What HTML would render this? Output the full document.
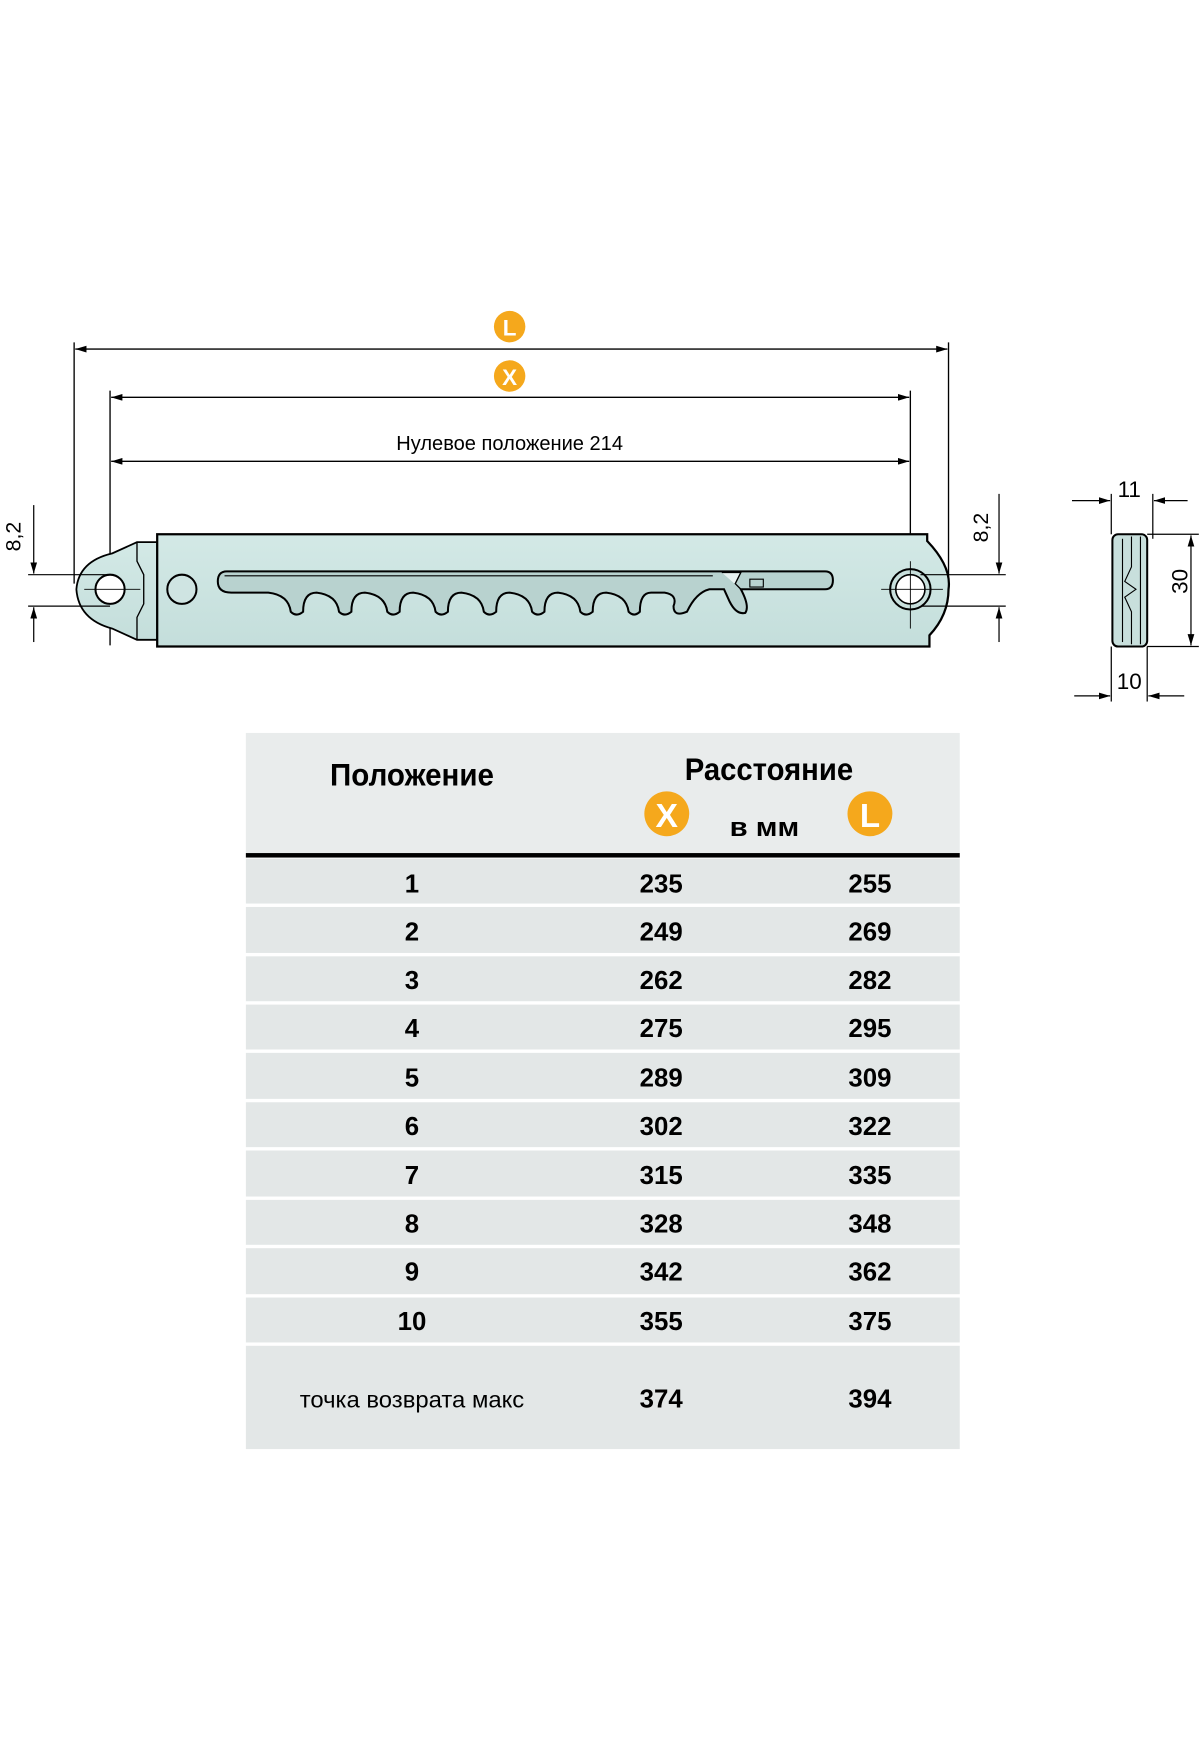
<!DOCTYPE html>
<html><head><meta charset="utf-8"><style>
html,body{margin:0;padding:0;background:#fff;}
svg{display:block;}
text{font-family:"Liberation Sans",sans-serif;}
</style></head><body>
<svg width="1200" height="1760" viewBox="0 0 1069 1568" xmlns="http://www.w3.org/2000/svg">
<defs>
<linearGradient id="g" x1="0" y1="0" x2="0" y2="1">
<stop offset="0" stop-color="#d3e9e6"/><stop offset="1" stop-color="#c4dedb"/></linearGradient>
<marker id="a" viewBox="0 0 10 6" refX="10" refY="3" markerWidth="10" markerHeight="6" orient="auto-start-reverse" markerUnits="userSpaceOnUse"><path d="M0,0 L10,3 L0,6 z" fill="#000"/></marker>
</defs>
<g stroke="#000" stroke-width="1.2" fill="none">
<!-- extension lines -->
<line x1="66" y1="305" x2="66" y2="520"/>
<line x1="845" y1="305" x2="845" y2="520"/>
<line x1="98" y1="348" x2="98" y2="575"/>
<line x1="811" y1="348" x2="811" y2="575"/>
<!-- dim lines -->
<line x1="67" y1="311" x2="844" y2="311" marker-start="url(#a)" marker-end="url(#a)"/>
<line x1="99" y1="354" x2="810" y2="354" marker-start="url(#a)" marker-end="url(#a)"/>
<line x1="99" y1="411" x2="810" y2="411" marker-start="url(#a)" marker-end="url(#a)"/>
</g>
<circle cx="454" cy="291" r="14" fill="#f5a81c"/>
<text x="454" y="299" font-size="20" font-weight="bold" fill="#fff" text-anchor="middle">L</text>
<circle cx="454" cy="335" r="14" fill="#f5a81c"/>
<text x="454" y="343" font-size="20" font-weight="bold" fill="#fff" text-anchor="middle">X</text>
<text x="454" y="401" font-size="18" text-anchor="middle" textLength="202" lengthAdjust="spacingAndGlyphs">Нулевое положение 214</text>

<!-- left lug -->
<path d="M140,483 L122,483 L100,493 Q70,500 68,525 Q70,552 100,560 L122,570 L140,570 Z" fill="url(#g)" stroke="#000" stroke-width="1.6"/>
<path d="M122,483 L122,500 L128,512 L128,538 L122,550 L122,570" fill="none" stroke="#000" stroke-width="1.2"/>
<!-- bar -->
<path d="M140,476 L826,476 L826,482 Q848,505 845,525 Q845,548 828,566 L828,576 L140,576 Z" fill="url(#g)" stroke="#000" stroke-width="2"/>
<circle cx="98" cy="525" r="13" fill="#fff" stroke="#000" stroke-width="1.8"/>
<circle cx="162" cy="525" r="13" fill="#cfe4e2" stroke="#000" stroke-width="1.8"/>
<circle cx="811" cy="525" r="18" fill="#c8dfdc" stroke="#000" stroke-width="1.8"/>
<circle cx="811" cy="525" r="13" fill="#fff" stroke="#000" stroke-width="1.4"/>
<!-- slot -->
<path d="M202,509 L735,509 Q742,509 742,517 Q742,525 735,525 L672,525 L660,525 Q668,540 664,546 Q656,548 650,536 L645,525 L632,525 Q620,528 612,545 Q600,550 600,540 Q604,530 592,528 L580,528 Q570,528 570,545 Q565,550 560,545 Q558,530 540,528
Q528,528 528,545 Q522,550 517,545 Q515,530 497,528
Q485,528 485,545 Q479,550 474,545 Q472,530 454,528
Q442,528 442,545 Q436,550 431,545 Q429,530 411,528
Q399,528 399,545 Q393,550 388,545 Q386,530 368,528
Q356,528 356,545 Q350,550 345,545 Q343,530 325,528
Q313,528 313,545 Q307,550 302,545 Q300,530 282,528
Q270,528 270,545 Q264,550 259,545 Q257,530 239,528
L206,528 Q194,528 194,518 Q194,509 202,509 Z" fill="#b8d2cf" stroke="#000" stroke-width="1.8"/>
<line x1="200" y1="513" x2="635" y2="513" stroke="#000" stroke-width="1"/>
<path d="M643,510 L660,510 L655,520 L660,525" fill="#e8f2f1" stroke="#000" stroke-width="1.2"/>
<rect x="668" y="516" width="12" height="7" fill="none" stroke="#000" stroke-width="1"/>
<!-- center lines -->
<g stroke="#000" stroke-width="0.8">
<line x1="75" y1="525" x2="125" y2="525"/>
<line x1="785" y1="525" x2="840" y2="525"/>
<line x1="811" y1="500" x2="811" y2="560"/>
</g>
<!-- 8,2 dims -->
<g stroke="#000" stroke-width="1.1" fill="none">
<line x1="25" y1="512" x2="98" y2="512"/>
<line x1="25" y1="540" x2="98" y2="540"/>
<line x1="30" y1="450" x2="30" y2="511" marker-end="url(#a)"/>
<line x1="30" y1="572" x2="30" y2="541" marker-end="url(#a)"/>
<line x1="820" y1="512" x2="896" y2="512"/>
<line x1="820" y1="540" x2="896" y2="540"/>
<line x1="890" y1="440" x2="890" y2="511" marker-end="url(#a)"/>
<line x1="890" y1="572" x2="890" y2="541" marker-end="url(#a)"/>
</g>
<text transform="translate(18,478) rotate(-90)" font-size="19" text-anchor="middle">8,2</text>
<text transform="translate(880,470) rotate(-90)" font-size="19" text-anchor="middle">8,2</text>
<!-- side view -->
<rect x="991" y="476" width="31" height="100" rx="5" fill="#c8dfdc" stroke="#000" stroke-width="1.8"/>
<line x1="1000" y1="480" x2="1000" y2="572" stroke="#000" stroke-width="1"/>
<path d="M1008,478 L1008,505 L1002,518 L1012,525 L1002,532 L1008,545 L1008,574" fill="none" stroke="#000" stroke-width="1"/>
<line x1="1016" y1="478" x2="1016" y2="574" stroke="#000" stroke-width="1"/>
<g stroke="#000" stroke-width="1.1" fill="none">
<line x1="990" y1="440" x2="990" y2="476"/>
<line x1="1027" y1="440" x2="1027" y2="480"/>
<line x1="955" y1="446" x2="989" y2="446" marker-end="url(#a)"/>
<line x1="1058" y1="446" x2="1028" y2="446" marker-end="url(#a)"/>
<line x1="1022" y1="476" x2="1068" y2="476"/>
<line x1="1022" y1="576" x2="1068" y2="576"/>
<line x1="1061" y1="477" x2="1061" y2="575" marker-start="url(#a)" marker-end="url(#a)"/>
<line x1="990" y1="576" x2="990" y2="625"/>
<line x1="1022" y1="576" x2="1022" y2="625"/>
<line x1="957" y1="620" x2="989" y2="620" marker-end="url(#a)"/>
<line x1="1055" y1="620" x2="1023" y2="620" marker-end="url(#a)"/>
</g>
<text x="1006" y="443" font-size="20" text-anchor="middle">11</text>
<text x="1006" y="614" font-size="20" text-anchor="middle">10</text>
<text transform="translate(1058,518) rotate(-90)" font-size="20" text-anchor="middle">30</text>

<!-- table -->
<rect x="219" y="653" width="636" height="107" fill="#e9ecec"/>
<rect x="219" y="760" width="636" height="4" fill="#000"/>
<g fill="#e3e7e7">
<rect x="219" y="765" width="636" height="40"/>
<rect x="219" y="808" width="636" height="41"/>
<rect x="219" y="852" width="636" height="40"/>
<rect x="219" y="895" width="636" height="40"/>
<rect x="219" y="938" width="636" height="41"/>
<rect x="219" y="982" width="636" height="40"/>
<rect x="219" y="1025" width="636" height="41"/>
<rect x="219" y="1069" width="636" height="40"/>
<rect x="219" y="1112" width="636" height="41"/>
<rect x="219" y="1156" width="636" height="40"/>
<rect x="219" y="1199" width="636" height="92"/>
</g>
<text x="367" y="700" font-size="28" font-weight="bold" text-anchor="middle" textLength="146" lengthAdjust="spacingAndGlyphs">Положение</text>
<text x="685" y="695" font-size="28" font-weight="bold" text-anchor="middle" textLength="150" lengthAdjust="spacingAndGlyphs">Расстояние</text>
<circle cx="594" cy="725" r="20" fill="#f5a81c"/>
<text x="594" y="737" font-size="30" font-weight="bold" fill="#fff" text-anchor="middle" textLength="20" lengthAdjust="spacingAndGlyphs">X</text>
<circle cx="775" cy="725" r="20" fill="#f5a81c"/>
<text x="775" y="737" font-size="30" font-weight="bold" fill="#fff" text-anchor="middle" textLength="18" lengthAdjust="spacingAndGlyphs">L</text>
<text x="681" y="745" font-size="24" font-weight="bold" text-anchor="middle" textLength="62" lengthAdjust="spacingAndGlyphs">в мм</text>
<g font-size="23" font-weight="bold" text-anchor="middle">
<text x="367" y="795">1</text><text x="589" y="795">235</text><text x="775" y="795">255</text>
<text x="367" y="838">2</text><text x="589" y="838">249</text><text x="775" y="838">269</text>
<text x="367" y="881">3</text><text x="589" y="881">262</text><text x="775" y="881">282</text>
<text x="367" y="924">4</text><text x="589" y="924">275</text><text x="775" y="924">295</text>
<text x="367" y="968">5</text><text x="589" y="968">289</text><text x="775" y="968">309</text>
<text x="367" y="1011">6</text><text x="589" y="1011">302</text><text x="775" y="1011">322</text>
<text x="367" y="1055">7</text><text x="589" y="1055">315</text><text x="775" y="1055">335</text>
<text x="367" y="1098">8</text><text x="589" y="1098">328</text><text x="775" y="1098">348</text>
<text x="367" y="1141">9</text><text x="589" y="1141">342</text><text x="775" y="1141">362</text>
<text x="367" y="1185">10</text><text x="589" y="1185">355</text><text x="775" y="1185">375</text>
<text x="589" y="1254">374</text><text x="775" y="1254">394</text>
</g>
<text x="367" y="1254" font-size="21" text-anchor="middle" textLength="200" lengthAdjust="spacingAndGlyphs">точка возврата макс</text>
</svg>
</body></html>
